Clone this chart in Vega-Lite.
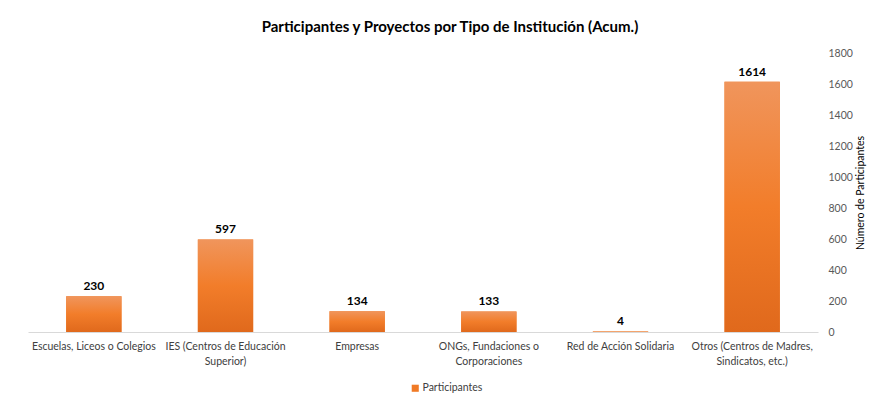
{
  "$schema": "https://vega.github.io/schema/vega-lite/v6.json",
  "autosize": "none",
  "width": 790,
  "height": 279,
  "padding": {"left": 28, "top": 53, "right": 62, "bottom": 74},
  "background": "white",
  "title": {
    "text": "Participantes y Proyectos por Tipo de Institución (Acum.)",
    "font": "Lato",
    "fontSize": 15,
    "fontWeight": "bold",
    "color": "#000000",
    "anchor": "middle",
    "dx": 27,
    "offset": 13
  },
  "data": {
    "values": [
      {"tipo": "Escuelas, Liceos o Colegios", "serie": "Participantes", "valor": 230},
      {"tipo": "IES (Centros de Educación|Superior)", "serie": "Participantes", "valor": 597},
      {"tipo": "Empresas", "serie": "Participantes", "valor": 134},
      {"tipo": "ONGs, Fundaciones o|Corporaciones", "serie": "Participantes", "valor": 133},
      {"tipo": "Red de Acción Solidaria", "serie": "Participantes", "valor": 4},
      {"tipo": "Otros (Centros de Madres,|Sindicatos, etc.)", "serie": "Participantes", "valor": 1614}
    ]
  },
  "encoding": {
    "x": {
      "field": "tipo",
      "type": "nominal",
      "sort": null,
      "scale": {"paddingInner": 0.58, "paddingOuter": 0.29},
      "axis": {
        "title": null,
        "labelAngle": 0,
        "labelExpr": "split(datum.label, '|')",
        "labelFont": "Lato",
        "labelFontSize": 10.5,
        "labelColor": "#404040",
        "labelPadding": 9,
        "labelLineHeight": 15,
        "ticks": false,
        "domainColor": "#D9D9D9",
        "domainWidth": 1
      }
    },
    "y": {
      "field": "valor",
      "type": "quantitative",
      "scale": {"domain": [0, 1800]},
      "axis": {
        "orient": "right",
        "values": [0, 200, 400, 600, 800, 1000, 1200, 1400, 1600, 1800],
        "format": "d",
        "title": "Número de Participantes",
        "titleFont": "Lato",
        "titleFontSize": 10.5,
        "titleFontWeight": "normal",
        "titleColor": "#000000",
        "titleAngle": 270,
        "titleBaseline": "top",
        "titlePadding": 3,
        "labelFont": "Lato",
        "labelFontSize": 10.5,
        "labelColor": "#595959",
        "labelPadding": 10,
        "ticks": false,
        "domain": false,
        "grid": false
      }
    }
  },
  "layer": [
    {
      "mark": {"type": "bar"},
      "encoding": {
        "fill": {
          "field": "serie",
          "type": "nominal",
          "scale": {"range": ["#F07A26"]},
          "legend": {
            "title": null,
            "orient": "none",
            "legendX": 382,
            "legendY": 330,
            "symbolType": "square",
            "symbolSize": 50,
            "labelFont": "Lato",
            "labelFontSize": 10.5,
            "labelColor": "#404040",
            "labelOffset": 2
          }
        }
      }
    },
    {
      "mark": {
        "type": "bar",
        "color": {
          "gradient": "linear",
          "x1": 0, "y1": 0, "x2": 0, "y2": 1,
          "stops": [
            {"offset": 0, "color": "#F0955C"},
            {"offset": 0.5, "color": "#F27D2A"},
            {"offset": 1, "color": "#E0691C"}
          ]
        }
      }
    },
    {
      "mark": {
        "type": "text",
        "dy": -10,
        "font": "Lato",
        "fontSize": 12,
        "fontWeight": "bold",
        "color": "#000000"
      },
      "encoding": {"text": {"field": "valor", "type": "quantitative"}}
    }
  ],
  "config": {"view": {"stroke": null}}
}
